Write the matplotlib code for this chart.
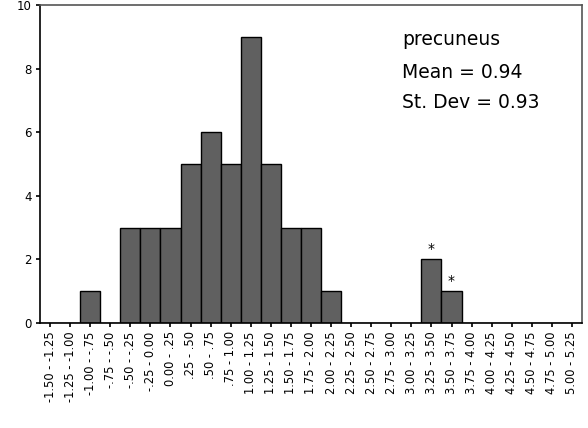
import matplotlib
matplotlib.use("Agg")
import matplotlib.pyplot as plt
import numpy as np

plt.rcParams["font.family"] = ["DejaVu Sans"]

# bin labels and counts for the precuneus histogram
bin_labels = [
    "-1.50 - -1.25", "-1.25 - -1.00", "-1.00 - -.75", "-.75 - -.50",
    "-.50 - -.25", "-.25 - 0.00", "0.00 - .25", ".25 - .50", ".50 - .75",
    ".75 - 1.00", "1.00 - 1.25", "1.25 - 1.50", "1.50 - 1.75", "1.75 - 2.00",
    "2.00 - 2.25", "2.25 - 2.50", "2.50 - 2.75", "2.75 - 3.00", "3.00 - 3.25",
    "3.25 - 3.50", "3.50 - 3.75", "3.75 - 4.00", "4.00 - 4.25", "4.25 - 4.50",
    "4.50 - 4.75", "4.75 - 5.00", "5.00 - 5.25",
]
counts = [0, 0, 1, 0, 3, 3, 3, 5, 6, 5, 9, 5, 3, 3, 1, 0, 0, 0, 0, 2, 1, 0, 0, 0, 0, 0, 0]
outlier_bins = ["3.25 - 3.50", "3.50 - 3.75"]
y_ticks = [0, 2, 4, 6, 8, 10]

region = "precuneus"
mean_val = 0.94
sd_val = 0.93

fig = plt.figure(figsize=(5.88, 4.28), dpi=100)
ax = fig.add_axes([40 / 588, 105 / 428, 542 / 588, 318 / 428])

x = np.arange(len(bin_labels))
ax.bar(x, counts, width=1.0, color="#606060", edgecolor="black", linewidth=1.0)

# mark outlying bins
for lab in outlier_bins:
    i = bin_labels.index(lab)
    ax.text(i, counts[i] + 0.1, "*", ha="center", va="bottom", fontsize=10)

ax.set_xlim(-0.5, len(bin_labels) - 0.5)
ax.set_ylim(0, 10)
ax.set_xticks(x)
ax.set_xticklabels(bin_labels, rotation=90, fontsize=8.3)
ax.set_yticks(y_ticks)
ax.set_yticklabels([str(v) for v in y_ticks], fontsize=8.5)
ax.tick_params(axis="both", direction="out", length=3, width=1.2, pad=3)

for side in ["top", "right"]:
    ax.spines[side].set_color("#555555")
    ax.spines[side].set_linewidth(1.2)
for side in ["left", "bottom"]:
    ax.spines[side].set_color("black")
    ax.spines[side].set_linewidth(1.2)

info = [region, f"Mean = {mean_val:.2f}", f"St. Dev = {sd_val:.2f}"]
baselines = [0.874, 0.770, 0.676]
for line, yb in zip(info, baselines):
    ax.text(0.668, yb, line, transform=ax.transAxes,
            fontsize=13.5, ha="left", va="baseline")

fig.savefig("out.png", dpi=100)
